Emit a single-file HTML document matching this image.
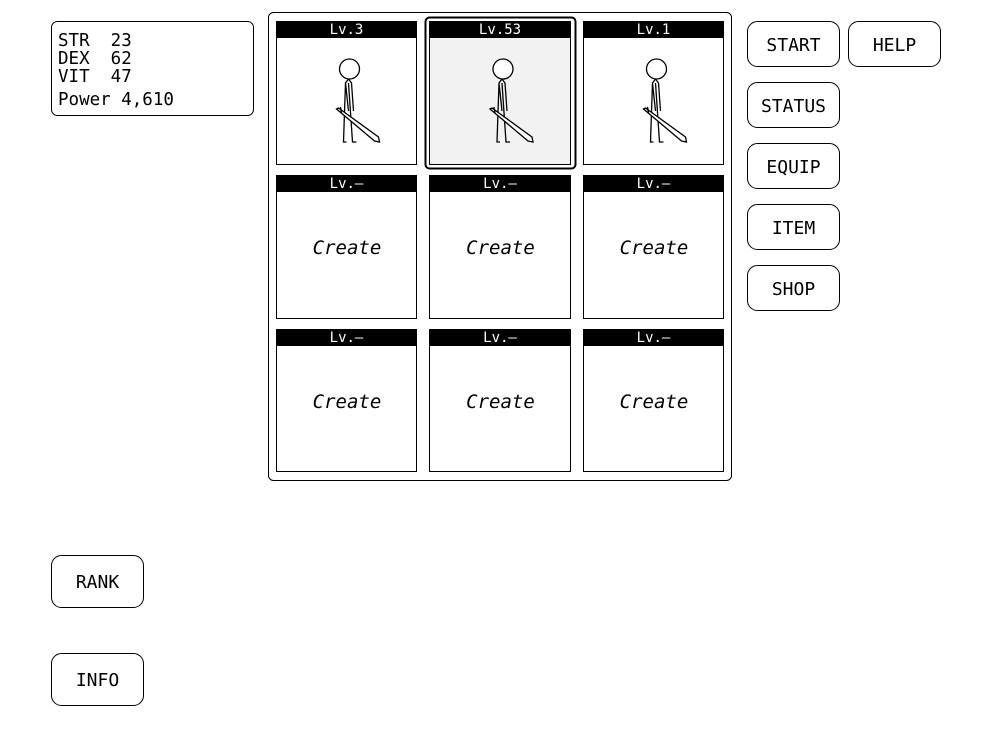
<!DOCTYPE html>
<html><head><style>body{margin:0;background:#fff}svg{display:block}text{font-family:"DejaVu Sans Mono","Liberation Mono",monospace}</style></head>
<body>
<svg width="1000" height="750" viewBox="0 0 1000 750" xmlns="http://www.w3.org/2000/svg">
<defs>
<g id="fig" fill="none" stroke="#000" stroke-width="1.3">
<circle cx="0" cy="0" r="10" fill="#fff"/>
<path d="M-1,10 L-4,14 L-6,73 L-3,73 M-1,10 L2,14 L4,42 M-1,14 L3,73 L7,73 M-4,14 L-1,42"/>
<path d="M-13,40 L-11,39 L29,68 L30,73 L25,72 Z" fill="#fff"/>
<path d="M-9,38 L-8,44"/>
</g>
</defs>
<rect x="51.5" y="21.5" width="202" height="94" rx="6" fill="#fff" stroke="#000"/>
<text x="58" y="46" font-size="17.5" xml:space="preserve">STR  23</text>
<text x="58" y="64" font-size="17.5" xml:space="preserve">DEX  62</text>
<text x="58" y="82" font-size="17.5" xml:space="preserve">VIT  47</text>
<text x="58" y="105" font-size="17.5">Power 4,610</text>
<rect x="268.5" y="12.5" width="463" height="468" rx="5" fill="#fff" stroke="#000"/>
<rect x="425.5" y="17.5" width="150" height="151" rx="4" fill="none" stroke="#000" stroke-width="2"/>
<g font-size="14" fill="#fff" text-anchor="middle">
<rect x="276.5" y="21.5" width="140" height="143" fill="#fff" stroke="#000"/>
<rect x="429.5" y="21.5" width="141" height="143" fill="#f2f2f2" stroke="#000"/>
<rect x="583.5" y="21.5" width="140" height="143" fill="#fff" stroke="#000"/>
<rect x="276" y="21" width="141" height="17" fill="#000"/>
<rect x="429" y="21" width="142" height="17" fill="#000"/>
<rect x="583" y="21" width="141" height="17" fill="#000"/>
<text x="346.5" y="34">Lv.3</text><text x="500" y="34">Lv.53</text><text x="653.5" y="34">Lv.1</text>
<rect x="276.5" y="175.5" width="140" height="143" fill="#fff" stroke="#000"/>
<rect x="429.5" y="175.5" width="141" height="143" fill="#fff" stroke="#000"/>
<rect x="583.5" y="175.5" width="140" height="143" fill="#fff" stroke="#000"/>
<rect x="276" y="175" width="141" height="17" fill="#000"/>
<rect x="429" y="175" width="142" height="17" fill="#000"/>
<rect x="583" y="175" width="141" height="17" fill="#000"/>
<text x="346.5" y="188">Lv.–</text><text x="500" y="188">Lv.–</text><text x="653.5" y="188">Lv.–</text>
<rect x="276.5" y="329.5" width="140" height="142" fill="#fff" stroke="#000"/>
<rect x="429.5" y="329.5" width="141" height="142" fill="#fff" stroke="#000"/>
<rect x="583.5" y="329.5" width="140" height="142" fill="#fff" stroke="#000"/>
<rect x="276" y="329" width="141" height="17" fill="#000"/>
<rect x="429" y="329" width="142" height="17" fill="#000"/>
<rect x="583" y="329" width="141" height="17" fill="#000"/>
<text x="346.5" y="342">Lv.–</text><text x="500" y="342">Lv.–</text><text x="653.5" y="342">Lv.–</text>
</g>
<use href="#fig" x="349.5" y="69"/>
<use href="#fig" x="503" y="69"/>
<use href="#fig" x="656.5" y="69"/>
<g font-size="19" font-style="italic" text-anchor="middle">
<text x="347" y="254">Create</text><text x="500.5" y="254">Create</text><text x="654" y="254">Create</text>
<text x="347" y="408">Create</text><text x="500.5" y="408">Create</text><text x="654" y="408">Create</text>
</g>
<g fill="#fff" stroke="#000">
<rect x="747.5" y="21.5" width="92" height="45" rx="10"/>
<rect x="848.5" y="21.5" width="92" height="45" rx="10"/>
<rect x="747.5" y="82.5" width="92" height="45" rx="10"/>
<rect x="747.5" y="143.5" width="92" height="45" rx="10"/>
<rect x="747.5" y="204.5" width="92" height="45" rx="10"/>
<rect x="747.5" y="265.5" width="92" height="45" rx="10"/>
<rect x="51.5" y="555.5" width="92" height="52" rx="10"/>
<rect x="51.5" y="653.5" width="92" height="52" rx="10"/>
</g>
<g font-size="18" text-anchor="middle">
<text x="793.5" y="51">START</text>
<text x="894.5" y="51">HELP</text>
<text x="793.5" y="112">STATUS</text>
<text x="793.5" y="173">EQUIP</text>
<text x="793.5" y="234">ITEM</text>
<text x="793.5" y="295">SHOP</text>
<text x="97.5" y="588">RANK</text>
<text x="97.5" y="686">INFO</text>
</g>
</svg>
</body></html>
